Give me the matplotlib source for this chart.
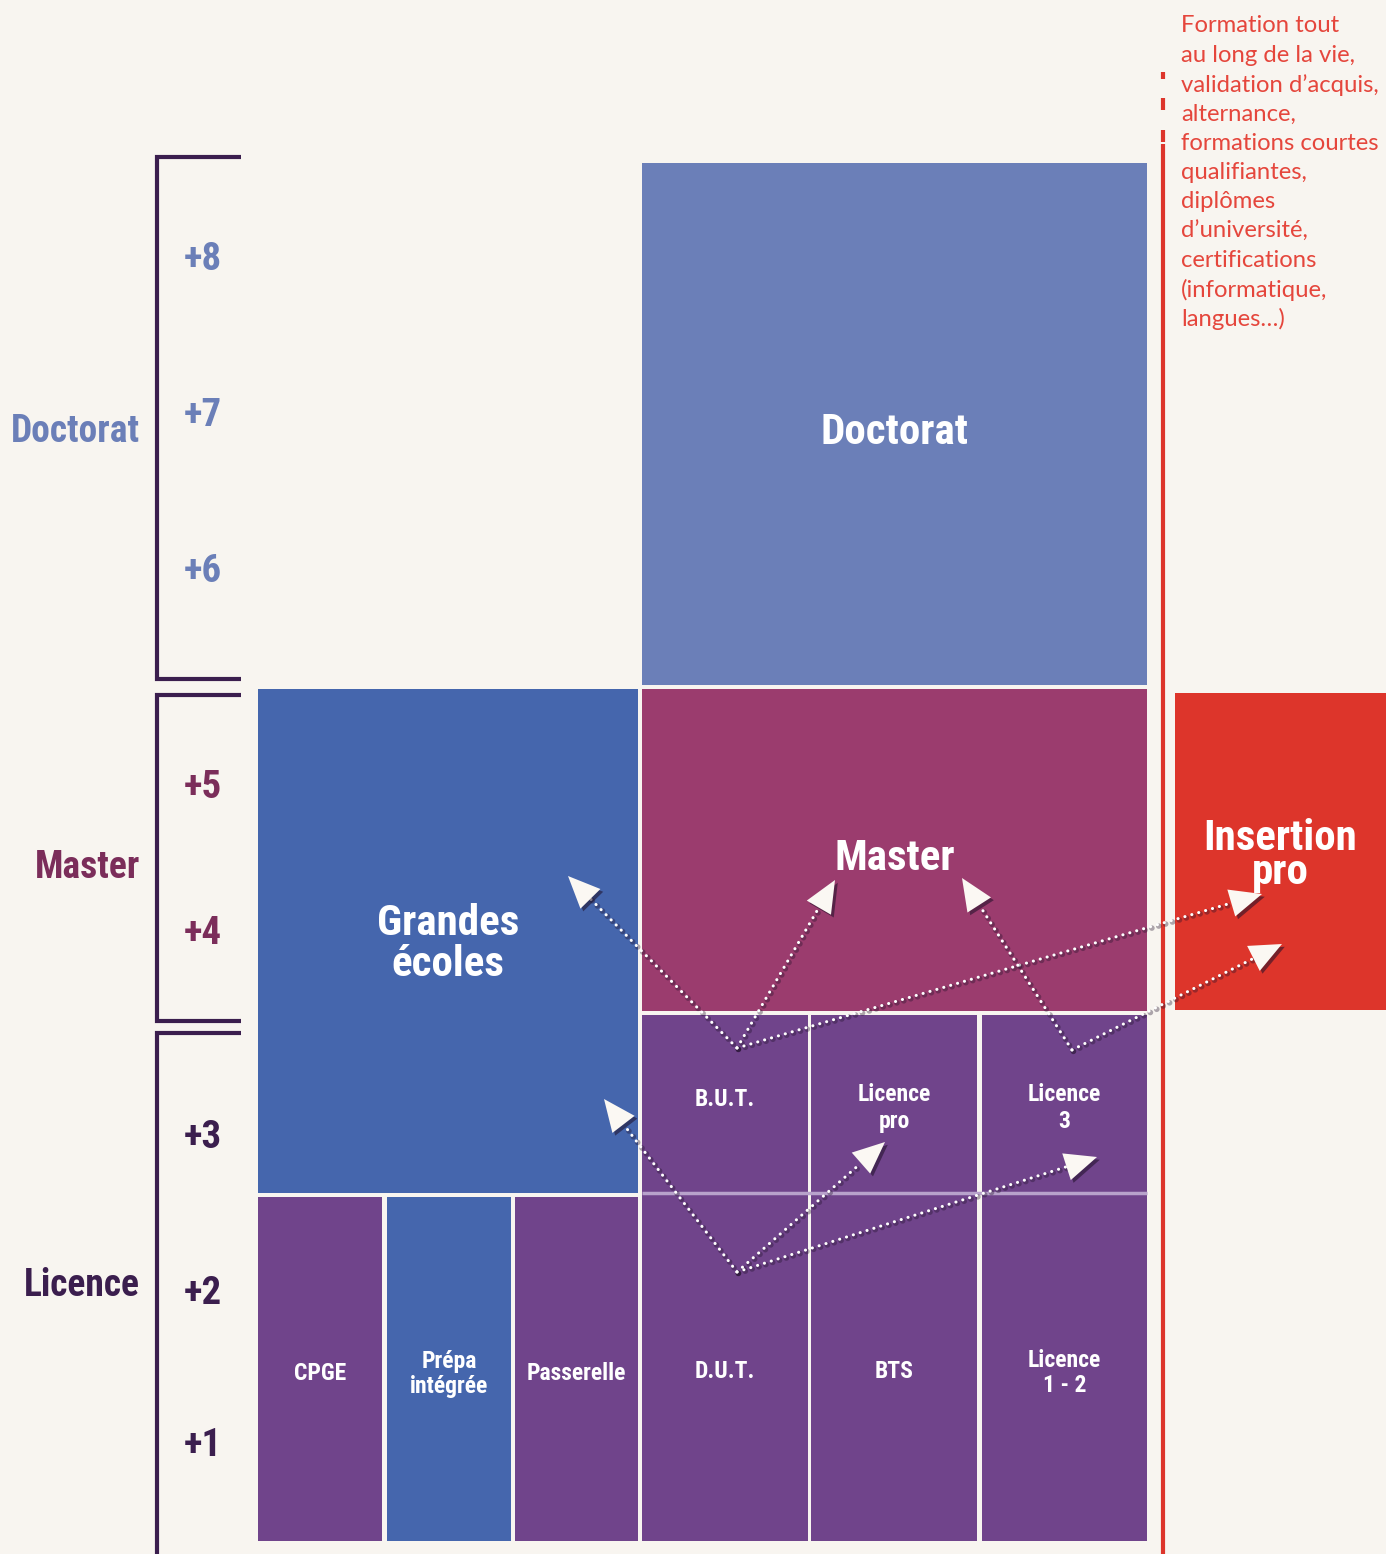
import matplotlib
matplotlib.use("Agg")
import matplotlib.pyplot as plt
from matplotlib.patches import Rectangle, Polygon
import matplotlib.patheffects as pe
import numpy as np

BG = "#F8F5F0"
BLUE_D = "#6B7FB8"
MASTER = "#9B3C6E"
BLUE = "#4566AD"
PURPLE = "#70448B"
RED = "#DD352B"
DARK = "#3B1E4E"

COND = ["Roboto Condensed", "Liberation Sans Narrow", "DejaVu Sans"]

# ---------------- data ----------------
block_labels = ["Doctorat", "Master", "Grandes\nécoles", "B.U.T.", "Licence\npro", "Licence\n3",
                "D.U.T.", "BTS", "Licence\n1 - 2", "CPGE", "Prépa\nintégrée", "Passerelle",
                "Insertion\npro"]
block_x0 = [642, 642, 258, 642, 811, 982, 642, 811, 982, 258, 387, 515, 1175]
block_x1 = [1147, 1147, 638, 808, 977, 1147, 808, 977, 1147, 382, 511, 638, 1386]
block_y0 = [163, 689, 689, 1015, 1015, 1015, 1193, 1193, 1193, 1197, 1197, 1197, 693]
block_y1 = [685, 1011, 1193, 1193, 1193, 1193, 1541, 1541, 1541, 1541, 1541, 1541, 1010]
block_colors = [BLUE_D, MASTER, BLUE, PURPLE, PURPLE, PURPLE, PURPLE, PURPLE, PURPLE,
                PURPLE, BLUE, PURPLE, RED]
block_big = [True, True, True, False, False, False, False, False, False, False, False, False, True]
block_spacing = [1.0, 1.0, 0.98, 1.0, 1.18, 1.18, 1.0, 1.0, 1.1, 1.0, 1.1, 1.0, 0.76]
block_label_dy = [8, 8, 3, -5, 4, 4, 5, 5, 6, 5, 5, 5, 4]

cycle_labels = ["Doctorat", "Master", "Licence"]
cycle_colors = [BLUE_D, "#7B2D5A", DARK]
cycle_top = [157, 695, 1033]
cycle_bottom = [679, 1021, 1560]
cycle_label_y = [432, 867, 1286]

year_labels = ["+8", "+7", "+6", "+5", "+4", "+3", "+2", "+1"]
year_y = [260, 415, 571, 788, 933, 1138, 1293, 1445]
year_colors = [BLUE_D] * 3 + ["#7B2D5A"] * 2 + [DARK] * 3

# arrows: start (hub) -> tip
arrow_start = [(737, 1048), (737, 1048), (737, 1048), (1072, 1050), (1072, 1050),
               (737, 1272), (737, 1272), (737, 1272)]
arrow_end = [(568, 876), (835, 880), (1262, 894), (962, 878), (1282, 944),
             (604, 1099), (885, 1142), (1097, 1157)]

side_lines = ["Formation tout", "au long de la vie,", "validation d\u2019acquis,", "alternance,",
              "formations courtes", "qualifiantes,", "diplômes", "d\u2019université,",
              "certifications", "(informatique,", "langues\u2026)"]

# ---------------- figure ----------------
fig = plt.figure(figsize=(13.86, 15.54), dpi=100, facecolor=BG)
ax = fig.add_axes([0, 0, 1, 1])
ax.set_xlim(0, 1386)
ax.set_ylim(1554, 0)
ax.axis("off")
ax.set_facecolor(BG)

for lab, x0, x1, y0, y1, c, big, ls, dy in zip(block_labels, block_x0, block_x1, block_y0,
                                                block_y1, block_colors, block_big,
                                                block_spacing, block_label_dy):
    ax.add_patch(Rectangle((x0, y0), x1 - x0, y1 - y0, facecolor=c, edgecolor="none", zorder=1))
    ax.text((x0 + x1) / 2, (y0 + y1) / 2 + dy, lab, ha="center", va="center", color="white",
            fontsize=31 if big else 17, fontweight="bold", family=COND,
            linespacing=ls, zorder=5)

# light separator between upper and lower university columns
ax.plot([642, 1147], [1193, 1193], color="#B8A2CB", lw=2.5, zorder=2, solid_capstyle="butt")

# brackets
for lab, c, t, b, ly in zip(cycle_labels, cycle_colors, cycle_top, cycle_bottom, cycle_label_y):
    ax.plot([241, 157, 157, 241], [t, t, b, b], color=DARK, lw=3, zorder=3,
            solid_joinstyle="miter", solid_capstyle="butt")
    ax.text(140, ly, lab, ha="right", va="center", color=c, fontsize=27,
            fontweight="bold", family=COND)

for lab, y, c in zip(year_labels, year_y, year_colors):
    ax.text(184, y, lab, ha="left", va="center", color=c, fontsize=28,
            fontweight="bold", family=COND)

# red vertical line
for ya, yb in [(72, 79), (98, 110), (130, 142), (144, 1554)]:
    ax.plot([1163, 1163], [ya, yb], color=RED, lw=3, solid_capstyle="butt", zorder=3)

for i, s in enumerate(side_lines):
    ax.text(1181, 26 + i * 29.3, s, ha="left", va="center", color="#E5463C",
            fontsize=17.2, family=["Lato", "DejaVu Sans"])

# arrows
shadow = [pe.SimpleLineShadow(offset=(1, -1), shadow_color="#1e0f28", alpha=0.35, linewidth=4),
          pe.Normal()]
for (xs, ys), (xe, ye) in zip(arrow_start, arrow_end):
    d = np.array([xe - xs, ye - ys], float)
    L = np.hypot(*d)
    u = d / L
    n = np.array([-u[1], u[0]])
    head_len, head_w = 32, 14
    base = np.array([xe, ye]) - head_len * u
    ax.plot([xs, base[0]], [ys, base[1]], color="white", lw=2.2,
            linestyle=(0, (0.05, 2.3)), dash_capstyle="round", zorder=6, path_effects=shadow)
    tri = Polygon([[xe, ye], base + head_w * n, base - head_w * n], closed=True,
                  facecolor="#FBF8F3", edgecolor="none", zorder=7,
                  path_effects=[pe.SimplePatchShadow(offset=(2, -2), shadow_rgbFace="#1e0f28",
                                                     alpha=0.55), pe.Normal()])
    ax.add_patch(tri)

fig.savefig("out.png", dpi=100, facecolor=BG)
